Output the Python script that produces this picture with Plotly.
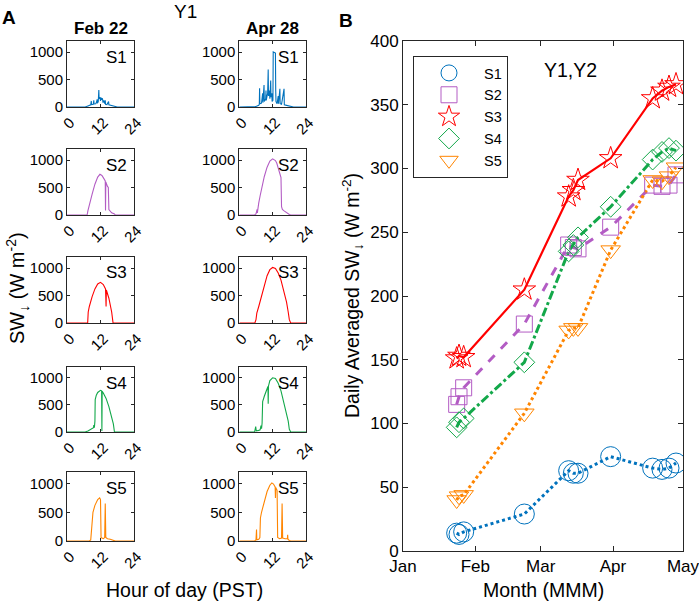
import plotly.graph_objects as go

# ── figure size / palette ─────────────────────────────────────────────────────
W, H = 699, 605
FONT = "Liberation Sans, Arial, Helvetica, sans-serif"
AX = "#262626"

C_S1 = "#0072BD"
C_S2 = "#B35CC4"
C_S3 = "#FF0000"
C_S4 = "#13A84A"
C_S5 = "#FF8500"

SITES = ["S1", "S2", "S3", "S4", "S5"]
COLORS = [C_S1, C_S2, C_S3, C_S4, C_S5]

# ── panel A: diurnal SW down, Feb 22 and Apr 28 (Y1) ─────────────────────────
feb_s1_hour = [0, 6.5, 7.5, 8.5, 8.7, 8.8, 9.4, 9.6, 9.7, 10.3, 10.6, 10.8, 10.9, 11.2, 11.4, 11.5,
               11.8, 12.0, 12.2, 12.5, 12.7, 12.9, 13.2, 13.5, 13.7, 13.8, 14.3, 14.9, 15.0, 16, 17, 18, 24]
feb_s1_sw = [0, 0, 20, 40, 110, 45, 50, 120, 55, 60, 90, 140, 70, 100, 310, 150,
             180, 110, 170, 130, 160, 80, 120, 60, 120, 50, 45, 100, 40, 25, 10, 0, 0]

feb_s2_hour = [0, 7.2, 7.5, 8, 9, 10, 11, 11.8, 12.5, 13, 13.7, 13.8, 13.9, 14.5, 14.8, 15, 15.5, 16, 17, 17.3, 24]
feb_s2_sw = [0, 0, 80, 200, 380, 560, 690, 740, 720, 680, 620, 80, 600, 520, 500, 100, 60, 40, 20, 0, 0]

feb_s3_hour = [0, 7.4, 7.6, 8, 9, 10, 11, 12, 13, 13.8, 14.0, 14.1, 15, 15.7, 16, 16.5, 24]
feb_s3_sw = [0, 0, 200, 300, 480, 620, 710, 740, 700, 620, 300, 600, 450, 300, 200, 0, 0]

feb_s4_hour = [0, 6.5, 7.5, 8.5, 9.5, 9.6, 9.8, 10.0, 10.1, 10.5, 11, 12, 12.4, 12.5, 12.6, 13, 14, 15, 16, 16.6, 17, 24]
feb_s4_sw = [0, 0, 20, 50, 80, 130, 80, 200, 600, 680, 730, 770, 760, 20, 750, 720, 620, 470, 280, 150, 0, 0]

feb_s5_hour = [0, 8, 8.5, 9, 9.3, 10, 11, 11.7, 12, 12.2, 13, 13.5, 13.7, 13.9, 14.5, 15.5, 17, 17.3, 24]
feb_s5_sw = [0, 0, 20, 300, 500, 620, 720, 750, 720, 60, 40, 60, 650, 60, 40, 30, 10, 0, 0]

apr_s1_hour = [0, 5, 6, 7, 7.2, 7.3, 7.4, 8, 8.4, 8.5, 8.9, 9.0, 9.5, 9.6, 9.7, 10.0, 10.2, 10.4, 10.5,
               10.8, 11.0, 11.3, 11.4, 11.7, 11.8, 12.1, 12.2, 12.6, 12.9, 13.0, 13.1, 13.2, 13.6,
               14.0, 14.1, 14.6, 14.7, 15.2, 16.1, 16.2, 17, 18, 19, 19.5, 24]
apr_s1_sw = [0, 0, 10, 30, 50, 340, 60, 70, 250, 80, 400, 100, 150, 300, 120, 200, 250, 680, 200,
             300, 150, 480, 180, 250, 100, 120, 1000, 990, 990, 980, 300, 100, 60,
             200, 60, 330, 60, 50, 330, 40, 30, 15, 5, 0, 0]

apr_s2_hour = [0, 5.5, 6, 6.4, 6.5, 6.8, 7, 7.5, 8, 9, 10, 11, 12, 13, 13.5, 14, 14.5, 15.0, 15.2,
               15.5, 16, 17, 18, 18.5, 24]
apr_s2_sw = [0, 0, 20, 100, 40, 180, 220, 350, 480, 700, 870, 980, 1020, 990, 940, 860, 770, 680, 150,
             100, 80, 40, 10, 0, 0]

apr_s3_hour = [0, 5.6, 6.0, 6.3, 7, 8, 9, 10, 11, 12, 13, 14, 15, 16, 17, 17.6, 18, 18.5, 24]
apr_s3_sw = [0, 0, 60, 180, 300, 500, 700, 860, 970, 1010, 990, 910, 780, 590, 380, 200, 60, 0, 0]

apr_s4_hour = [0, 5.5, 5.9, 6.1, 7, 7.5, 7.8, 8, 8.2, 8.4, 9, 9.5, 10.3, 10.4, 10.5, 11, 12, 13, 14,
               15, 16, 17, 17.6, 18, 18.5, 24]
apr_s4_sw = [0, 0, 100, 20, 30, 40, 120, 60, 160, 560, 660, 740, 840, 520, 850, 950, 1000, 990, 900,
             760, 560, 350, 200, 50, 0, 0]

apr_s5_hour = [0, 5.5, 6.0, 6.2, 6.3, 7, 7.4, 7.6, 8, 9, 10, 11, 11.7, 12.3, 12.9, 13.0, 13.1, 13.6,
               13.8, 14.5, 15.2, 15.4, 15.6, 16.5, 17.3, 17.4, 17.5, 18, 18.5, 24]
apr_s5_sw = [0, 0, 20, 200, 20, 30, 60, 400, 500, 700, 860, 970, 1010, 990, 940, 750, 930, 880,
             60, 40, 50, 650, 50, 40, 40, 110, 30, 10, 0, 0]

feb_hours = [feb_s1_hour, feb_s2_hour, feb_s3_hour, feb_s4_hour, feb_s5_hour]
feb_sw = [feb_s1_sw, feb_s2_sw, feb_s3_sw, feb_s4_sw, feb_s5_sw]
apr_hours = [apr_s1_hour, apr_s2_hour, apr_s3_hour, apr_s4_hour, apr_s5_hour]
apr_sw = [apr_s1_sw, apr_s2_sw, apr_s3_sw, apr_s4_sw, apr_s5_sw]

# ── panel B: daily averaged SW down (Y1, Y2) ─────────────────────────────────
obs_dates = ["2019-01-24", "2019-01-25", "2019-01-27", "2019-02-22", "2019-03-13", "2019-03-15",
             "2019-03-17", "2019-03-31", "2019-04-18", "2019-04-22", "2019-04-25", "2019-04-28"]
daily_s1 = [14, 13, 15, 29, 63, 61, 61, 74, 65, 64, 65, 69]
daily_s2 = [115, 121, 128, 178, 240, 238, 237, 254, 287, 286, 287, 295]
daily_s3 = [151, 153, 152, 205, 278, 283, 291, 308, 355, 361, 364, 366]
daily_s4 = [97, 101, 104, 148, 235, 240, 246, 270, 307, 313, 316, 314]
daily_s5 = [40, 43, 44, 108, 173, 175, 175, 236, 291, 290, 294, 301]
daily_all = [daily_s1, daily_s2, daily_s3, daily_s4, daily_s5]

month_ticks = ["2019-01-01", "2019-02-01", "2019-03-01", "2019-04-01", "2019-05-01"]
month_labels = ["Jan", "Feb", "Mar", "Apr", "May"]

SYMBOLS = ["circle-open", "square-open", "star-open", "diamond-open", "triangle-down-open"]
SIZES = [20, 16, 17, 16, 17]
DASHES = ["dot", "dash", "solid", "dashdot", "dot"]
LWIDTH = [3, 3, 2.2, 3, 3]


def px_x(px):
    return px / W


def px_y(py):
    return 1 - py / H


# subplot boxes in pixels
COL_X = [(67, 134), (239.3, 306)]
ROW_Y = [(41, 107), (149, 215), (257, 323), (367, 432), (472, 541)]

fig = go.Figure()
layout = {}

_ax_common = dict(showline=True, linecolor=AX, linewidth=1, mirror="ticks", ticks="inside",
                  tickcolor=AX, showgrid=False, zeroline=False, automargin=False,
                  tickfont=dict(family=FONT, size=15, color="black"))

for r in range(5):
    for c in range(2):
        idx = r * 2 + c + 1
        sfx = "" if idx == 1 else str(idx)
        hours = feb_hours[r] if c == 0 else apr_hours[r]
        vals = feb_sw[r] if c == 0 else apr_sw[r]
        fig.add_trace(go.Scatter(x=hours, y=vals, mode="lines", xaxis="x" + sfx, yaxis="y" + sfx,
                                 line=dict(color=COLORS[r], width=1.1), showlegend=False,
                                 hoverinfo="skip"))
        x0, x1 = COL_X[c]
        y0, y1 = ROW_Y[r]
        layout["xaxis" + sfx] = dict(domain=[px_x(x0), px_x(x1)], anchor="y" + sfx, range=[0, 24],
                                     tickvals=[0, 12, 24], tickangle=-45, ticklen=3,
                                     ticklabelshift=3, ticklabelstandoff=0, **_ax_common)
        layout["yaxis" + sfx] = dict(domain=[px_y(y1), px_y(y0)], anchor="x" + sfx, range=[0, 1200],
                                     tickvals=[0, 500, 1000], ticklen=3, **_ax_common)

# panel B
for i in range(5):
    fig.add_trace(go.Scatter(x=obs_dates, y=daily_all[i], mode="lines", xaxis="x11", yaxis="y11",
                             line=dict(color=COLORS[i], width=LWIDTH[i], dash=DASHES[i]),
                             showlegend=False, hoverinfo="skip"))
for i in range(5):
    fig.add_trace(go.Scatter(x=obs_dates, y=daily_all[i], mode="markers", name=SITES[i],
                             xaxis="x11", yaxis="y11",
                             marker=dict(symbol=SYMBOLS[i], size=SIZES[i], color=COLORS[i],
                                         line=dict(color=COLORS[i], width=1))))

_axB = dict(_ax_common)
_axB["tickfont"] = dict(family=FONT, size=17, color="black")
layout["xaxis11"] = dict(domain=[px_x(403), px_x(683)], anchor="y11", type="date",
                         range=[month_ticks[0], month_ticks[-1]], tickvals=month_ticks,
                         ticktext=month_labels, ticklen=5, ticklabeloverflow="allow", **_axB)
layout["yaxis11"] = dict(domain=[px_y(551), px_y(41)], anchor="x11", range=[0, 400],
                         tickvals=list(range(0, 401, 50)), ticklen=5, **_axB)

annotations = []


def add_text(text, px, py, size, bold=False, angle=0, xanchor="center"):
    annotations.append(dict(text=f"<b>{text}</b>" if bold else text, x=px_x(px), y=px_y(py),
                            xref="paper", yref="paper", showarrow=False, textangle=angle,
                            xanchor=xanchor, yanchor="middle",
                            font=dict(family=FONT, size=size, color="black")))


add_text("A", 9, 18, 19, bold=True)
add_text("B", 346, 20, 19, bold=True)
add_text("Y1", 185, 11, 19)
add_text("Feb 22", 100.5, 29, 17, bold=True)
add_text("Apr 28", 272.7, 29, 17, bold=True)
for r in range(5):
    y0 = ROW_Y[r][0]
    add_text(SITES[r], 129, y0 + 16, 17, xanchor="right")
    add_text(SITES[r], 301, y0 + 16, 17, xanchor="right")
add_text("SW<sub>↓</sub> (W m<sup>-2</sup>)", 17, 288, 20, angle=-90)
add_text("Hour of day (PST)", 184, 590, 19.5)
add_text("Daily Averaged SW<sub>↓</sub> (W m<sup>-2</sup>)", 352, 296, 19.5, angle=-90)
add_text("Month (MMM)", 543, 590, 19.5)
add_text("Y1,Y2", 570, 70, 19.5)

layout["annotations"] = annotations

fig.update_layout(
    width=W, height=H,
    margin=dict(l=0, r=0, t=0, b=0, autoexpand=False),
    paper_bgcolor="white", plot_bgcolor="white",
    font=dict(family=FONT, size=15, color="black"),
    legend=dict(x=px_x(413), y=px_y(56), xanchor="left", yanchor="top",
                bgcolor="white", bordercolor=AX, borderwidth=1,
                font=dict(family=FONT, size=14.5, color="black"), itemwidth=60,
                tracegroupgap=0),
    **layout,
)

# page body margin would offset the fixed-size figure
fig.write_html("out.html", config={"displayModeBar": False},
               post_script="document.body.style.margin='0';")
